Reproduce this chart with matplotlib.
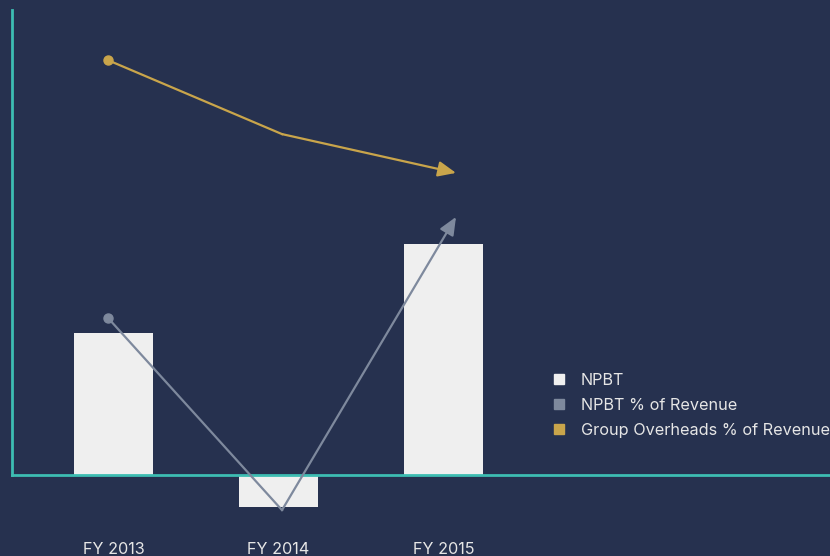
import matplotlib.pyplot as plt
from matplotlib.lines import Line2D

# values
years = ['FY 2013', 'FY 2014', 'FY 2015']
npbt = [4.6, -1.04, 7.5]
npbt_pct = [5.1, -1.14, 8.38]
overheads_pct = [13.47, 11.07, 9.81]

bg = '#26314f'
teal = '#3dbdb2'
bar_col = '#efefef'
grey = '#7e899d'
gold = '#c9a54b'
txt = '#e6e6e6'

plt.rcParams['font.family'] = ['Inter', 'DejaVu Sans']

fig = plt.figure(figsize=(8.3, 5.56), dpi=100, facecolor=bg)
ax = fig.add_axes([12 / 830, 81 / 556, 818 / 830, 465 / 556], facecolor=bg)

x = list(range(len(years)))
ax.bar(x, npbt, width=0.48, color=bar_col, clip_on=False, zorder=2)
ax.set_xlim(-(113.5 - 12) / 165, (830 - 113.5) / 165)
ax.set_ylim(0, 15.1)

for side in ['top', 'right']:
    ax.spines[side].set_visible(False)
for side in ['left', 'bottom']:
    ax.spines[side].set_color(teal)
    ax.spines[side].set_linewidth(2)
    ax.spines[side].set_zorder(3)

ax.set_yticks([])
ax.set_xticks(x)
ax.set_xticklabels(years, color=txt, fontsize=11.7)
ax.tick_params(axis='x', length=0, pad=48)

# lines sit on their own x scale
ax2 = ax.twiny()
ax2.set_xlim(-(108 - 12) / 174, (830 - 108) / 174)
ax2.set_ylim(0, 15.1)
ax2.axis('off')

for vals, col in [(npbt_pct, grey), (overheads_pct, gold)]:
    ax2.plot(x[:2], vals[:2], color=col, lw=1.6, clip_on=False, zorder=4)
    ax2.plot(x[0], vals[0], 'o', color=col, ms=6.5, clip_on=False, zorder=5)
    ax2.annotate('', xy=(x[2], vals[2]), xytext=(x[1], vals[1]),
                 arrowprops=dict(arrowstyle='-|>,head_length=0.6,head_width=0.26',
                                 mutation_scale=18, color=col, lw=1.6,
                                 shrinkA=0, shrinkB=0),
                 annotation_clip=False, zorder=4)

handles = [Line2D([], [], ls='none', marker='s', ms=7.5, color=c)
           for c in [bar_col, grey, gold]]
fig.legend(handles, ['NPBT', 'NPBT % of Revenue', 'Group Overheads % of Revenue'],
           loc='upper left', bbox_to_anchor=(551 / 830, 1 - 373 / 556),
           frameon=False, borderpad=0, borderaxespad=0, handlelength=1.0,
           handletextpad=0.85, labelspacing=0.62, fontsize=11.7, labelcolor=txt)

fig.savefig('out.png', facecolor=bg)
